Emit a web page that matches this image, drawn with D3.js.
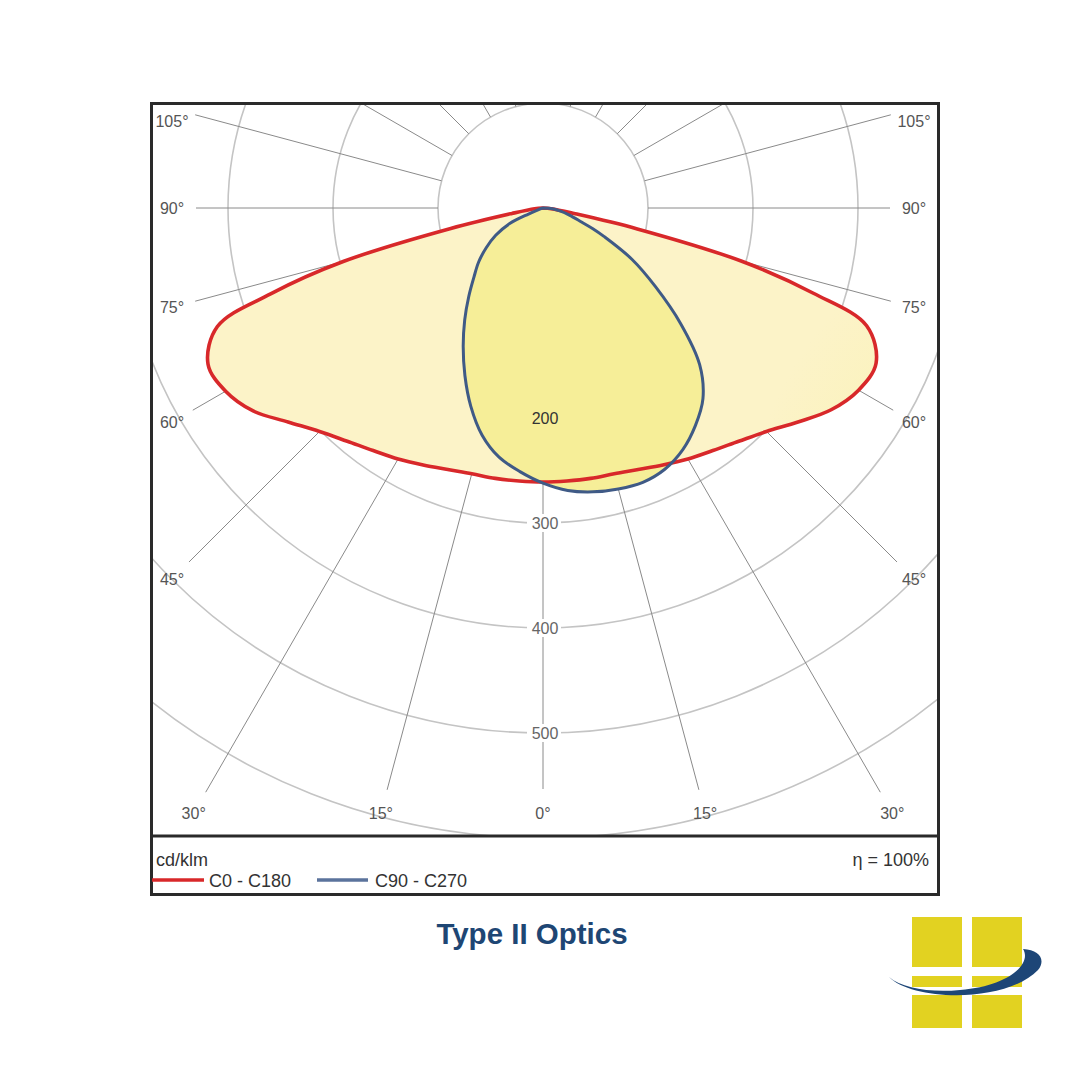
<!DOCTYPE html>
<html>
<head>
<meta charset="utf-8">
<script src="https://cdn.jsdelivr.net/npm/d3@7"></script>
<style>
  html, body { margin: 0; padding: 0; background: #ffffff; }
  svg { display: block; }
</style>
</head>
<body>
<svg id="chart" width="1080" height="1080"></svg>
<script>
// ---- data (cd/klm) ----
const ringValues = [100, 200, 300, 400, 500, 600];
const ringLabels = ["200", "300", "400", "500"];
const angleLabels = [-105, -90, -75, -60, -45, -30, -15, 0, 15, 30, 45, 60, 75, 90, 105];

// C0 - C180 plane (red)
const gammaRed = [0, 5, 10, 15, 20, 25, 30, 35, 40, 45, 50, 55, 60, 65, 70, 72.5, 75, 77.5, 80, 85, 90];
const c0   = [261, 261, 261.5, 262, 265, 270, 276, 282, 290, 301, 317, 335, 347, 350, 328, 270, 196, 92, 30, 8, 0];
const c180 = [261, 261, 261.5, 262, 265, 270, 276, 282, 290, 301, 317, 337, 349, 352, 330, 272, 197, 90, 30, 8, 0];

// C90 - C270 plane (blue)
const gammaBlue = [0, 5, 10, 15, 20, 25, 30, 35, 40, 45, 50, 55, 60, 65, 67.5, 70, 75, 80, 85, 90];
const c90  = [264, 270, 274.5, 277, 278, 274.5, 266, 253, 237, 211, 171, 131, 98, 64, 51, 39, 26, 17, 9, 0];
const c270 = [262, 252, 241, 224, 201, 176, 152, 130, 110, 93, 80, 66, 52, 35, 15, 5, 1, 0, 0, 0];

const legendItems = [
  { label: "C0 - C180", color: "#d8282a" },
  { label: "C90 - C270", color: "#5b739c" }
];
const unitLabel = "cd/klm";
const effLabel = "η = 100%";
const title = "Type II Optics";

// ---- layout ----
const svg = d3.select("#chart");
const cx = 543, cy = 208;
const plot = { x0: 152, y0: 104, x1: 937, y1: 835 };
const r = d3.scaleLinear().domain([0, 100]).range([0, 105]);
const rad = d => d * Math.PI / 180;
const font = "Liberation Sans, Arial, sans-serif";

const defs = svg.append("defs");
defs.append("clipPath").attr("id", "plotClip")
  .append("rect").attr("x", plot.x0).attr("y", plot.y0)
  .attr("width", plot.x1 - plot.x0).attr("height", plot.y1 - plot.y0);

const grad = defs.append("radialGradient").attr("id", "redFill")
  .attr("gradientUnits", "userSpaceOnUse")
  .attr("cx", cx).attr("cy", 330).attr("r", 340);
grad.append("stop").attr("offset", "0%").attr("stop-color", "#f7ee9c");
grad.append("stop").attr("offset", "50%").attr("stop-color", "#faf2b6");
grad.append("stop").attr("offset", "100%").attr("stop-color", "#fcf3c8");

const blueGrad = defs.append("radialGradient").attr("id", "blueFill")
  .attr("gradientUnits", "userSpaceOnUse")
  .attr("cx", cx).attr("cy", 330).attr("r", 200);
blueGrad.append("stop").attr("offset", "0%").attr("stop-color", "#f4ea84");
blueGrad.append("stop").attr("offset", "100%").attr("stop-color", "#f6ee98");

const g = svg.append("g").attr("clip-path", "url(#plotClip)");
const grid = g.append("g").attr("transform", `translate(${cx},${cy})`);

// rings
grid.selectAll("circle.ring").data(ringValues).join("circle")
  .attr("class", "ring").attr("r", d => r(d))
  .attr("fill", "none").attr("stroke", "#c4c4c4").attr("stroke-width", 1.6);

// label positions for angle ticks
function labelPos(a) {
  const s = Math.sin(rad(a)), c = Math.cos(rad(a));
  let t;
  if (Math.abs(a) >= 45) t = 371 / Math.abs(s);
  else t = 605 / c;
  return { x: t * s, y: Math.max(t * c, -87), t: t };
}

// radial lines every 15°
const radialAngles = d3.range(-180, 181, 15);
const lineEnd = d => (Math.abs(d) <= 105 ? labelPos(d).t - 24 : 900);
grid.selectAll("line.radial").data(radialAngles).join("line")
  .attr("class", "radial")
  .attr("x1", d => r(100) * Math.sin(rad(d)))
  .attr("y1", d => r(100) * Math.cos(rad(d)))
  .attr("x2", d => lineEnd(d) * Math.sin(rad(d)))
  .attr("y2", d => lineEnd(d) * Math.cos(rad(d)))
  .attr("stroke", "#8a8a8a").attr("stroke-width", 1);

// curves
const radialLine = d3.lineRadial()
  .angle(d => Math.PI - rad(d[0]))
  .radius(d => r(d[1]))
  .curve(d3.curveCatmullRom.alpha(0.5));

const redPts = gammaRed.map((a, i) => [-a, c180[i]]).reverse()
  .concat(gammaRed.slice(1).map((a, i) => [a, c0[i + 1]]));
const bluePts = gammaBlue.map((a, i) => [-a, c270[i]]).reverse()
  .concat(gammaBlue.slice(1).map((a, i) => [a, c90[i + 1]]));

const curves = g.append("g").attr("transform", `translate(${cx},${cy})`);
curves.append("path").attr("d", radialLine(redPts) + "Z")
  .attr("fill", "url(#redFill)").attr("stroke", "none");
curves.append("path").attr("d", radialLine(bluePts) + "Z")
  .attr("fill", "url(#blueFill)").attr("stroke", "none");
curves.append("path").attr("d", radialLine(redPts) + "Z")
  .attr("fill", "none").attr("stroke", legendItems[0].color)
  .attr("stroke-width", 3.6).attr("stroke-linejoin", "round");
curves.append("path").attr("d", radialLine(bluePts) + "Z")
  .attr("fill", "none").attr("stroke", "#3f5a86")
  .attr("stroke-width", 3).attr("stroke-linejoin", "round");

// ring labels
const ringLab = g.append("g").attr("transform", `translate(${cx},${cy})`);
ringLabels.forEach((t, i) => {
  const y = r(+t);
  if (i > 0) {
    ringLab.append("rect").attr("x", -16).attr("y", y - 9).attr("width", 34).attr("height", 18)
      .attr("fill", "#ffffff");
  }
  ringLab.append("text").attr("x", 2).attr("y", y)
    .attr("text-anchor", "middle").attr("dominant-baseline", "central")
    .attr("font-family", font).attr("font-size", 16)
    .attr("fill", i === 0 ? "#333" : "#666").text(t);
});

// angle labels
const angLab = g.append("g").attr("transform", `translate(${cx},${cy})`);
angleLabels.forEach(a => {
  const p = labelPos(a);
  angLab.append("text").attr("x", p.x).attr("y", p.y)
    .attr("text-anchor", "middle").attr("dominant-baseline", "central")
    .attr("font-family", font).attr("font-size", 16)
    .attr("fill", "#555").text(Math.abs(a) + "°");
});

// frame
svg.append("rect").attr("x", 151.5).attr("y", 103.5).attr("width", 787).attr("height", 791)
  .attr("fill", "none").attr("stroke", "#2a2a2a").attr("stroke-width", 3);
svg.append("line").attr("x1", 151).attr("x2", 939).attr("y1", 836).attr("y2", 836)
  .attr("stroke", "#2a2a2a").attr("stroke-width", 3);

// legend
svg.append("text").attr("x", 156).attr("y", 866).attr("font-family", font).attr("font-size", 18)
  .attr("fill", "#333").text(unitLabel);
svg.append("text").attr("x", 929).attr("y", 866).attr("text-anchor", "end").attr("font-family", font)
  .attr("font-size", 18).attr("fill", "#333").text(effLabel);
const legX = [[152, 204, 209], [317, 368, 375]];
legendItems.forEach((it, i) => {
  svg.append("line").attr("x1", legX[i][0]).attr("x2", legX[i][1])
    .attr("y1", 880).attr("y2", 880).attr("stroke", it.color).attr("stroke-width", 3.5);
  svg.append("text").attr("x", legX[i][2]).attr("y", 887)
    .attr("font-family", font).attr("font-size", 18).attr("fill", "#333").text(it.label);
});

// title
svg.append("text").attr("x", 532).attr("y", 944).attr("text-anchor", "middle")
  .attr("font-family", font).attr("font-weight", "bold").attr("font-size", 29.5)
  .attr("fill", "#1e4674").text(title);

// logo
const logo = svg.append("g");
const yel = "#e2d221";
[[912, 917, 50, 50], [972, 917, 50, 50], [912, 976, 50, 11], [972, 976, 50, 11],
 [912, 995, 50, 33], [972, 995, 50, 33]].forEach(b => {
  logo.append("rect").attr("x", b[0]).attr("y", b[1]).attr("width", b[2]).attr("height", b[3]).attr("fill", yel);
});
logo.append("path")
  .attr("d", "M889,977 C912,1001 1005,1004 1038,970 C1046,960 1040,950 1023,949 C1032,963 1010,986 960,990 C930,993 902,988 889,977 Z")
  .attr("fill", "#1d4677");
</script>
</body>
</html>
